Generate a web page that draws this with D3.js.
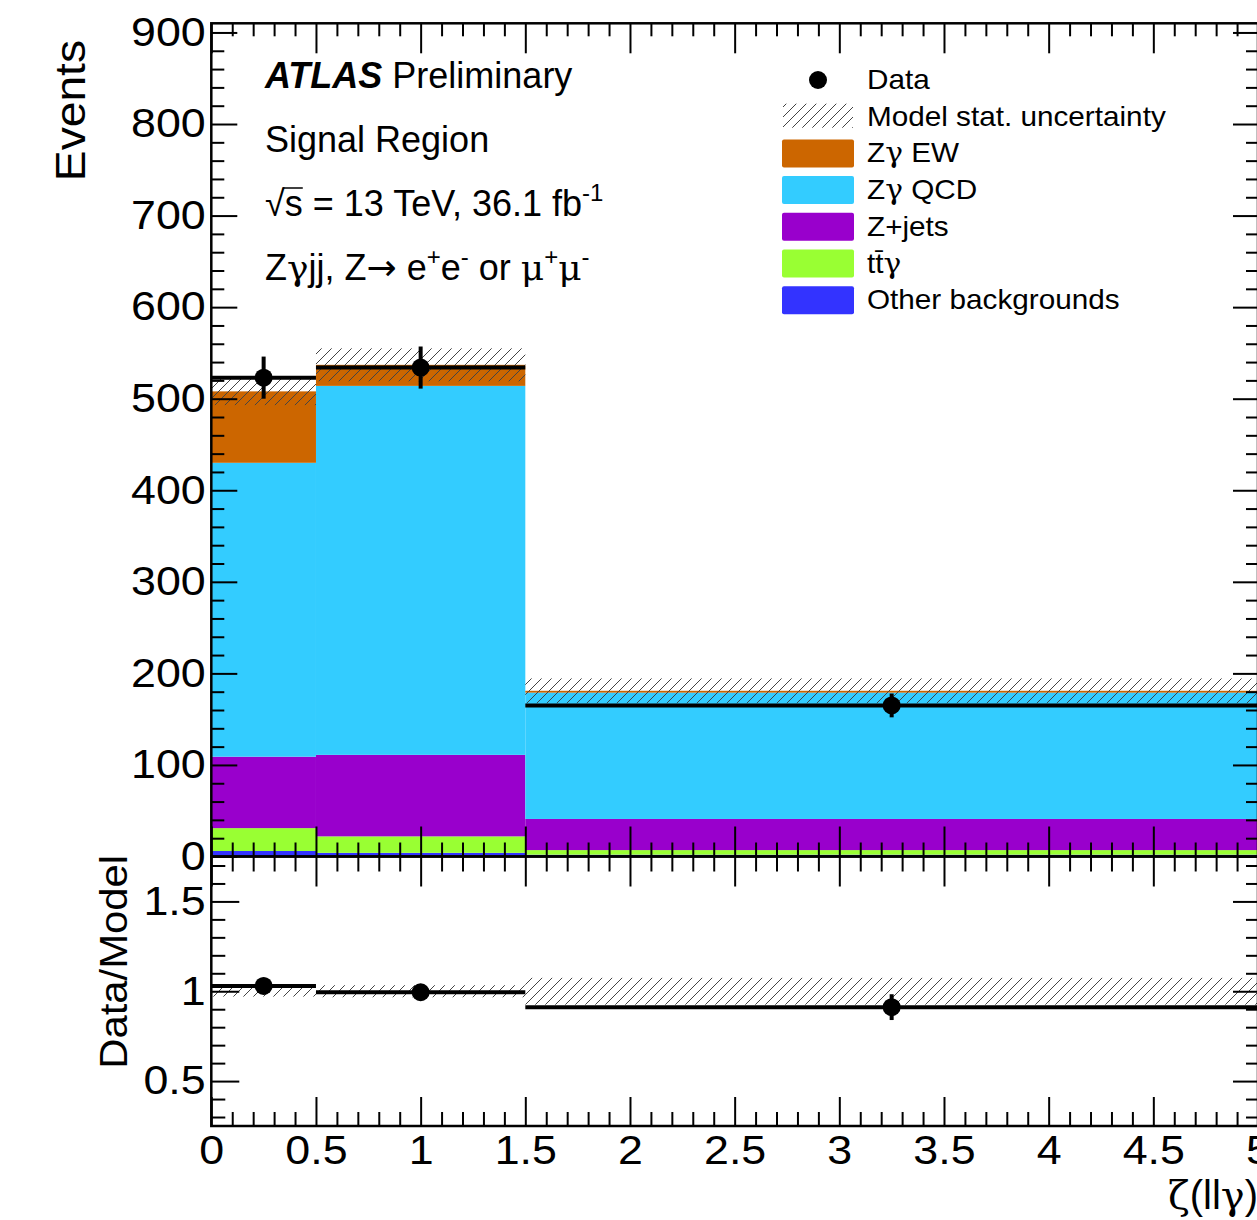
<!DOCTYPE html>
<html>
<head>
<meta charset="utf-8">
<script src="https://cdn.jsdelivr.net/npm/d3@7"></script>
<style>
  body { margin: 0; background: #fff; }
  svg { display: block; font-family: "Liberation Sans", Arial, sans-serif; }
</style>
</head>
<body>
<svg id="chart" width="1257" height="1220"></svg>
<script>
// Data
var binEdges = [0, 0.5, 1.5, 5]
var bkgOther = [6, 4, 2]
var bkgTTG = [25, 18, 5]
var bkgZjets = [78, 89, 34]
var zgQCD = [321, 403, 138]
var zgEW = [78, 23, 2]
var statUnc = [15, 18, 13.5]
var dataX = [0.25, 1.0, 3.25]
var dataY = [523, 534, 165]
var dataErr = [23, 23, 13]

var seriesKeys = ['other', 'ttg', 'zjets', 'qcd', 'ew']
var seriesColors = { other: '#3333ff', ttg: '#99ff33', zjets: '#9900cc', qcd: '#33ccff', ew: '#cc6600' }
var legendNames = ['Data', 'Model stat. uncertainty', 'Zγ EW', 'Zγ QCD', 'Z+jets', 'tt\u0304γ', 'Other backgrounds']
var legendKeys = ['data', 'unc', 'ew', 'qcd', 'zjets', 'ttg', 'other']

var xTicksMajor = [0, 0.5, 1, 1.5, 2, 2.5, 3, 3.5, 4, 4.5, 5]
var yTicksMajor = [0, 100, 200, 300, 400, 500, 600, 700, 800, 900]
var rTicksMajor = [0.5, 1, 1.5]

// Layout
var L = 211.3, R = 1258
var TOP = 23.3, MID = 856.5, BOT = 1126
var SYM = '"DejaVu Serif", serif'

var svg = d3.select('#chart')
svg.append('rect').attr('width', 1257).attr('height', 1220).attr('fill', '#fff')

var x = d3.scaleLinear().domain([0, 5]).range([L, R])
var y = d3.scaleLinear().domain([0, 910]).range([MID, TOP])
var yr = d3.scaleLinear().domain([0.25, 1.75]).range([BOT, MID])

// hatch pattern
var defs = svg.append('defs')
var pat = defs.append('pattern').attr('id', 'hatch')
  .attr('patternUnits', 'userSpaceOnUse').attr('width', 10).attr('height', 10)
pat.append('path')
  .attr('d', 'M0,10 L10,0 M-2.5,2.5 L2.5,-2.5 M7.5,12.5 L12.5,7.5')
  .attr('stroke', '#444').attr('stroke-width', 1)
defs.append('clipPath').attr('id', 'clipMain').append('rect')
  .attr('x', L).attr('y', TOP).attr('width', R - L).attr('height', MID - TOP)

// stacked histogram
var rows = binEdges.slice(0, -1).map(function (e, i) {
  return { i: i, other: bkgOther[i], ttg: bkgTTG[i], zjets: bkgZjets[i], qcd: zgQCD[i], ew: zgEW[i] }
})
var stacked = d3.stack().keys(seriesKeys)(rows)
var totals = rows.map(function (r) {
  return d3.sum(seriesKeys, function (k) { return r[k] })
})

var main = svg.append('g').attr('clip-path', 'url(#clipMain)')
stacked.forEach(function (layer) {
  main.append('g').selectAll('rect')
    .data(layer)
    .enter().append('rect')
    .attr('x', function (d) { return x(binEdges[d.data.i]) })
    .attr('width', function (d) { return x(binEdges[d.data.i + 1]) - x(binEdges[d.data.i]) })
    .attr('y', function (d) { return y(d[1]) })
    .attr('height', function (d) { return y(d[0]) - y(d[1]) })
    .attr('fill', seriesColors[layer.key])
})

// stat uncertainty band
main.append('g').selectAll('rect')
  .data(totals)
  .enter().append('rect')
  .attr('x', function (d, i) { return x(binEdges[i]) })
  .attr('width', function (d, i) { return x(binEdges[i + 1]) - x(binEdges[i]) })
  .attr('y', function (d, i) { return y(d + statUnc[i]) })
  .attr('height', function (d, i) { return y(d - statUnc[i]) - y(d + statUnc[i]) })
  .attr('fill', 'url(#hatch)')

// data
var dg = main.append('g').attr('stroke', '#000').attr('stroke-width', 4)
dataY.forEach(function (v, i) {
  dg.append('line')
    .attr('x1', x(binEdges[i])).attr('x2', x(binEdges[i + 1]))
    .attr('y1', y(v)).attr('y2', y(v))
  dg.append('line')
    .attr('x1', x(dataX[i])).attr('x2', x(dataX[i]))
    .attr('y1', y(v + dataErr[i])).attr('y2', y(v - dataErr[i]))
  dg.append('circle').attr('cx', x(dataX[i])).attr('cy', y(v)).attr('r', 9)
    .attr('fill', '#000').attr('stroke', 'none')
})

// ratio panel
var rp = svg.append('g')
rp.append('g').selectAll('rect')
  .data(totals)
  .enter().append('rect')
  .attr('x', function (d, i) { return x(binEdges[i]) })
  .attr('width', function (d, i) { return x(binEdges[i + 1]) - x(binEdges[i]) })
  .attr('y', function (d, i) { return yr(1 + statUnc[i] / d) })
  .attr('height', function (d, i) { return yr(1 - statUnc[i] / d) - yr(1 + statUnc[i] / d) })
  .attr('fill', 'url(#hatch)')
var rg = rp.append('g').attr('stroke', '#000').attr('stroke-width', 4)
dataY.forEach(function (v, i) {
  var t = totals[i]
  rg.append('line')
    .attr('x1', x(binEdges[i])).attr('x2', x(binEdges[i + 1]))
    .attr('y1', yr(v / t)).attr('y2', yr(v / t))
  rg.append('line')
    .attr('x1', x(dataX[i])).attr('x2', x(dataX[i]))
    .attr('y1', yr((v + dataErr[i]) / t)).attr('y2', yr((v - dataErr[i]) / t))
  rg.append('circle').attr('cx', x(dataX[i])).attr('cy', yr(v / t)).attr('r', 9)
    .attr('fill', '#000').attr('stroke', 'none')
})

// ticks
function minors (lo, hi, step, majors) {
  var n = Math.round((hi - lo) / step)
  return d3.range(n + 1).map(function (k) { return +(lo + k * step).toFixed(4) })
    .filter(function (v) { return majors.indexOf(v) < 0 })
}
var xMinor = minors(0, 5, 0.1, xTicksMajor)
var yMinor = minors(0, 900, 20, yTicksMajor)
var rMinor = minors(0.3, 1.7, 0.1, rTicksMajor)

function tickAxis (axisFn, scale, tx, ty, values, size) {
  var g = svg.append('g')
    .attr('transform', 'translate(' + tx + ',' + ty + ')')
    .call(axisFn(scale).tickValues(values).tickSize(size).tickFormat(''))
  g.select('.domain').remove()
  g.selectAll('line').attr('stroke', '#000').attr('stroke-width', 2)
  return g
}
// main x ticks: bottom (up), top (down)
tickAxis(d3.axisTop, x, 0, MID, xTicksMajor, 30)
tickAxis(d3.axisTop, x, 0, MID, xMinor, 14)
tickAxis(d3.axisBottom, x, 0, TOP, xTicksMajor, 30)
tickAxis(d3.axisBottom, x, 0, TOP, xMinor, 13)
// ratio x ticks
tickAxis(d3.axisBottom, x, 0, MID, xTicksMajor, 30)
tickAxis(d3.axisBottom, x, 0, MID, xMinor, 15)
tickAxis(d3.axisTop, x, 0, BOT, xTicksMajor, 29)
tickAxis(d3.axisTop, x, 0, BOT, xMinor, 14)
// main y ticks: left (right-pointing), right (left-pointing)
tickAxis(d3.axisRight, y, L, 0, yTicksMajor, 26)
tickAxis(d3.axisRight, y, L, 0, yMinor, 13)
tickAxis(d3.axisLeft, y, R, 0, yTicksMajor, 25)
tickAxis(d3.axisLeft, y, R, 0, yMinor, 12)
// ratio y ticks
tickAxis(d3.axisRight, yr, L, 0, rTicksMajor, 28)
tickAxis(d3.axisRight, yr, L, 0, rMinor, 14)
tickAxis(d3.axisLeft, yr, R, 0, rTicksMajor, 25)
tickAxis(d3.axisLeft, yr, R, 0, rMinor, 12)

// frames
svg.append('rect').attr('x', L).attr('y', TOP).attr('width', R - L).attr('height', MID - TOP)
  .attr('fill', 'none').attr('stroke', '#000').attr('stroke-width', 2.5)
svg.append('rect').attr('x', L).attr('y', MID).attr('width', R - L).attr('height', BOT - MID)
  .attr('fill', 'none').attr('stroke', '#000').attr('stroke-width', 2.5)

// tick labels
var fmt = d3.format('~g')
function labelAxis (axisFn, scale, tx, ty, values, pad) {
  var g = svg.append('g')
    .attr('transform', 'translate(' + tx + ',' + ty + ')')
    .call(axisFn(scale).tickValues(values).tickSize(0).tickPadding(pad).tickFormat(fmt))
  g.select('.domain').remove()
  g.selectAll('text')
    .style('font-family', '"Liberation Sans", Arial, sans-serif')
    .style('font-size', '40px')
    .attr('fill', '#000')
    .attr('transform', 'scale(1.12,1)')
  return g
}
labelAxis(d3.axisLeft, y, L, 0, yTicksMajor, 5)
labelAxis(d3.axisLeft, yr, L, 0, rTicksMajor, 5)
labelAxis(d3.axisBottom, x, 0, BOT, xTicksMajor, 10)

// text with greek letters set in a serif face, like ROOT's symbol font
function fillRich (textSel, str) {
  str.split(/([γζμ→])/).forEach(function (part) {
    if (!part) return
    var t = textSel.append('tspan').text(part)
    if (/[γζμ→]/.test(part)) t.style('font-family', part === '→' ? '"DejaVu Sans", sans-serif' : SYM)
  })
  return textSel
}
function addText (g, tx, ty, str, size, sx, anchor, rot) {
  var t = g.append('text')
    .attr('transform', 'translate(' + tx + ',' + ty + ')' + (rot ? ' rotate(' + rot + ')' : '') + ' scale(' + sx + ',1)')
    .attr('text-anchor', anchor || 'start')
    .style('font-size', size + 'px')
  return fillRich(t, str)
}
addText(svg, 85, 40, 'Events', 42, 1.1, 'end', -90)
addText(svg, 127, 855, 'Data/Model', 38, 1.1, 'end', -90)
addText(svg, 1258, 1209, 'ζ(llγ)', 40, 1.0, 'end')

// annotations
var ann = svg.append('g')
var atl = ann.append('text').attr('x', 265).attr('y', 88).style('font-size', '36px')
atl.append('tspan').attr('font-weight', 'bold').attr('font-style', 'italic').text('ATLAS')
atl.append('tspan').text(' Preliminary')
ann.append('text').attr('x', 265).attr('y', 152).style('font-size', '36px').text('Signal Region')

var sq = ann.append('text').attr('x', 265).attr('y', 216).style('font-size', '36px')
sq.append('tspan').text('√s = 13 TeV, 36.1 fb')
sq.append('tspan').attr('dy', -15).style('font-size', '24px').text('-1')
var sqw0 = sq.node().getSubStringLength(0, 1)
var sqw1 = sq.node().getSubStringLength(1, 1)
ann.append('line').attr('x1', 265 + sqw0 - 2).attr('x2', 265 + sqw0 + sqw1)
  .attr('y1', 188).attr('y2', 188).attr('stroke', '#000').attr('stroke-width', 1.5)

var zl = ann.append('text').attr('x', 265).attr('y', 280).style('font-size', '36px')
var zparts = [['Zγjj, Z→ e', 0], ['+', 1], ['e', 0], ['-', 1], [' or μ', 0], ['+', 1], ['μ', 0], ['-', 1]]
zparts.forEach(function (p, k) {
  var prevSup = k > 0 && zparts[k - 1][1]
  var dy = p[1] ? -15 : (prevSup ? 15 : 0)
  var sp = zl.append('tspan').attr('dy', dy).style('font-size', p[1] ? '24px' : '36px')
  fillRich(sp, p[0])
})

// legend
var lg = svg.append('g')
var rowY0 = 79, rowStep = 36.7
legendKeys.forEach(function (k, i) {
  var cy = rowY0 + i * rowStep
  if (k === 'data') {
    lg.append('circle').attr('cx', 818).attr('cy', cy + 1).attr('r', 9).attr('fill', '#000')
  } else if (k === 'unc') {
    lg.append('rect').attr('x', 783).attr('y', cy - 12).attr('width', 70).attr('height', 24)
      .attr('fill', 'url(#hatch)')
  } else {
    lg.append('rect').attr('x', 782).attr('y', cy - 13).attr('width', 72).attr('height', 28)
      .attr('rx', 2).attr('fill', seriesColors[k])
  }
  addText(lg, 867, cy + 10, legendNames[i], 27, 1.1, 'start')
})
</script>
</body>
</html>
